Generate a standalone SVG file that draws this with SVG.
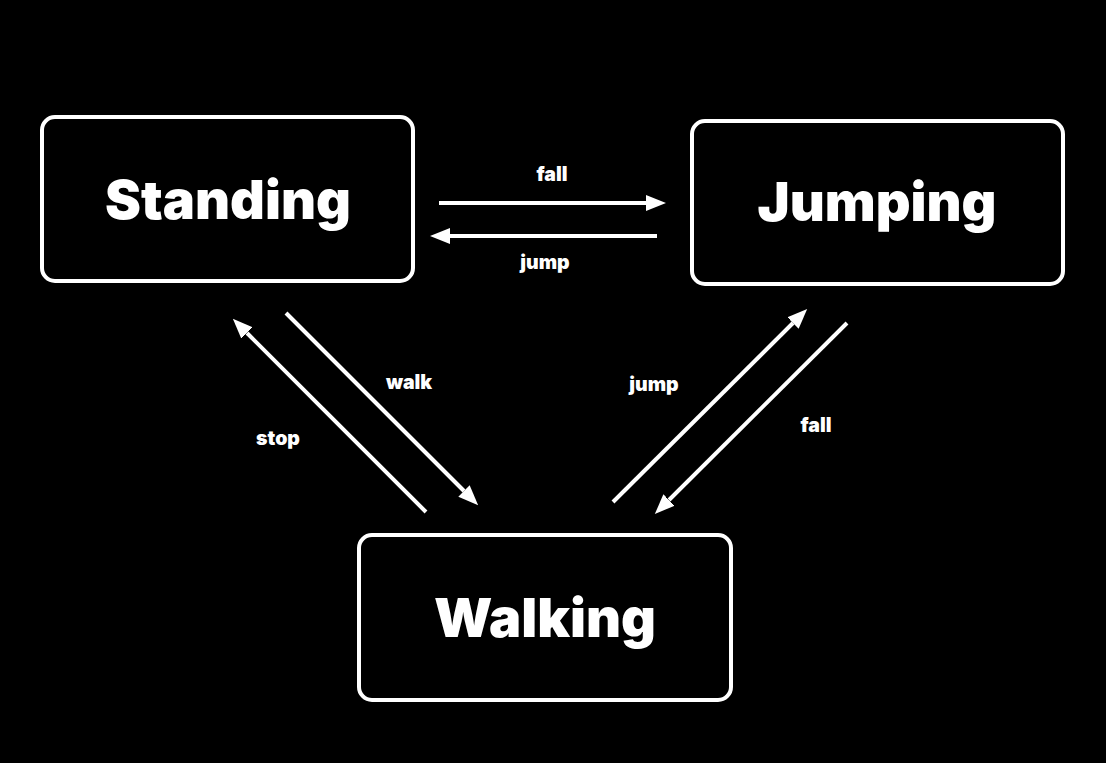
<svg xmlns="http://www.w3.org/2000/svg" width="1106" height="763" viewBox="0 0 1106 763">
<style>
.box{fill:#000;stroke:#fff;stroke-width:4}
.title{fill:#fff;font-family:Inter,"Liberation Sans",sans-serif;font-weight:900;font-size:54px;text-anchor:middle}
.lbl{fill:#fff;font-family:Inter,"Liberation Sans",sans-serif;font-weight:900;font-size:19.5px;text-anchor:middle}
.edge{stroke:#fff;stroke-width:4;fill:none;marker-end:url(#ah)}
</style>
<defs>
<marker id="ah" markerUnits="userSpaceOnUse" viewBox="0 -8 20 16" refX="0" refY="0" markerWidth="20" markerHeight="16" orient="auto">
<path d="M0,-8 L20,0 L0,8 z" fill="#fff"/>
</marker>
</defs>
<rect width="1106" height="763" fill="#000"/>
<g id="standing">
<rect class="box" x="42" y="117" width="371" height="164" rx="13"/>
<text class="title" x="228" y="219">Standing</text>
</g>
<g id="jumping">
<rect class="box" x="692" y="121" width="371" height="163" rx="13"/>
<text class="title" x="877" y="221">Jumping</text>
</g>
<g id="walking">
<rect class="box" x="359" y="535" width="372" height="165" rx="13"/>
<text class="title" x="545" y="637">Walking</text>
</g>
<g id="connectors">
<line class="edge" x1="439" y1="203" x2="646" y2="203"/>
<line class="edge" x1="657" y1="236" x2="450" y2="236"/>
<line class="edge" x1="286" y1="313" x2="464" y2="491"/>
<line class="edge" x1="426" y1="512" x2="247" y2="333"/>
<line class="edge" x1="613" y1="502" x2="793" y2="323"/>
<line class="edge" x1="847" y1="323" x2="669" y2="500"/>
<text class="lbl" x="552" y="181">fall</text>
<text class="lbl" x="545" y="269">jump</text>
<text class="lbl" x="409" y="389">walk</text>
<text class="lbl" x="278" y="445">stop</text>
<text class="lbl" x="654" y="391">jump</text>
<text class="lbl" x="816" y="432">fall</text>
</g>
</svg>
